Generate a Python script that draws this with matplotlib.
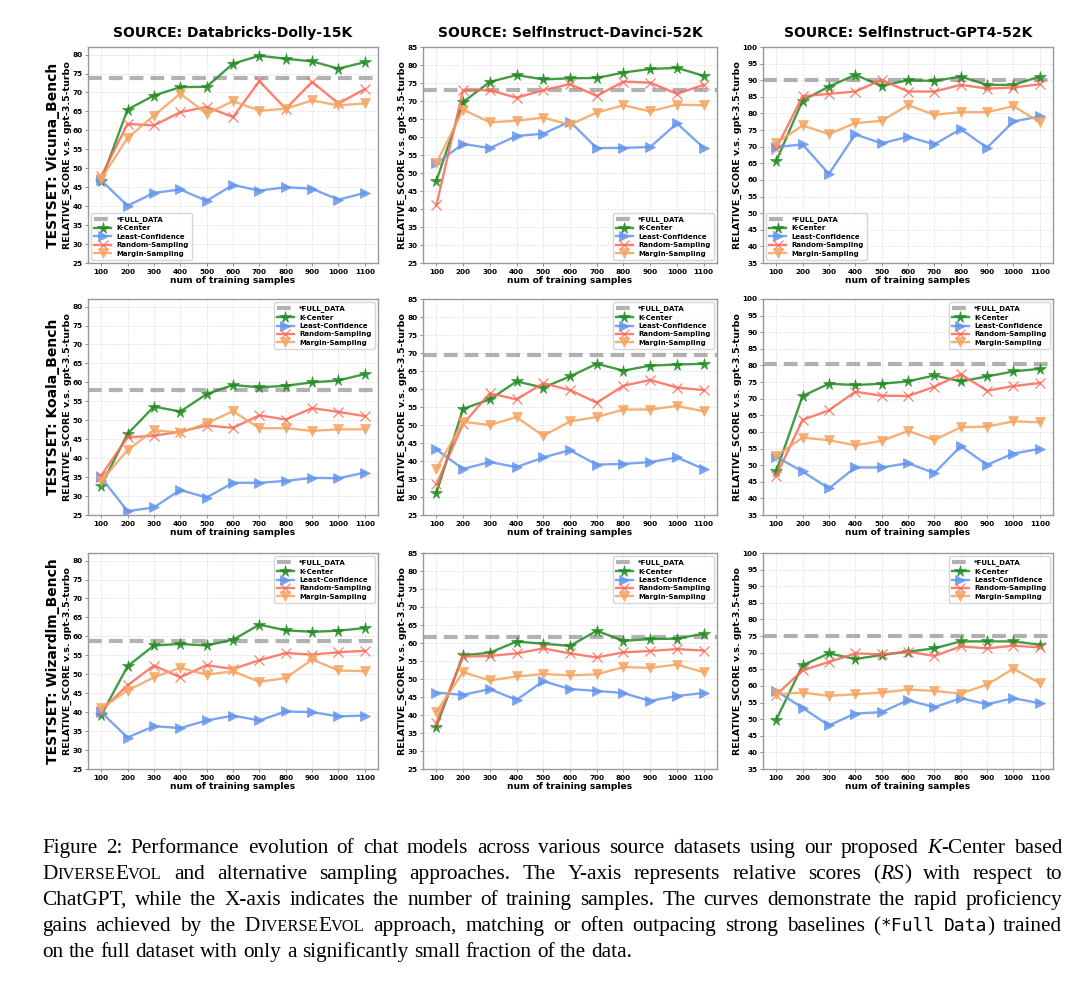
import matplotlib
matplotlib.use("Agg")
import matplotlib.pyplot as plt
from matplotlib.ticker import MultipleLocator

plt.rcParams['font.family'] = ['DejaVu Sans']
plt.rcParams['font.weight'] = 'bold'
plt.rcParams['axes.titleweight'] = 'bold'
plt.rcParams['axes.labelweight'] = 'bold'

samples = [100, 200, 300, 400, 500, 600, 700, 800, 900, 1000, 1100]
sources = ["Databricks-Dolly-15K", "SelfInstruct-Davinci-52K", "SelfInstruct-GPT4-52K"]
testsets = ["Vicuna_Bench", "Koala_Bench", "Wizardlm_Bench"]
series_names = ["K-Center", "Least-Confidence", "Random-Sampling", "Margin-Sampling"]

# TESTSET: Vicuna_Bench
vicuna_dolly_full = 73.8
vicuna_dolly_kcenter = [46.6, 65.5, 69.2, 71.4, 71.5, 77.6, 79.7, 78.9, 78.2, 76.3, 78.0]
vicuna_dolly_least = [46.8, 40.1, 43.5, 44.4, 41.4, 45.6, 44.1, 45.0, 44.6, 41.7, 43.5]
vicuna_dolly_random = [47.9, 61.7, 61.3, 64.8, 66.2, 63.5, 73.0, 65.7, 72.8, 67.1, 70.9]
vicuna_dolly_margin = [47.2, 58.0, 63.9, 69.7, 64.4, 67.7, 65.2, 65.7, 67.9, 66.6, 67.1]

vicuna_davinci_full = 73.1
vicuna_davinci_kcenter = [47.8, 69.7, 75.3, 77.2, 76.0, 76.3, 76.4, 77.9, 78.9, 79.2, 77.0]
vicuna_davinci_least = [52.7, 58.1, 56.9, 60.3, 60.9, 64.3, 56.9, 57.0, 57.2, 63.8, 57.0]
vicuna_davinci_random = [41.0, 73.0, 73.0, 70.9, 73.0, 74.7, 71.4, 75.4, 75.1, 72.0, 74.5]
vicuna_davinci_margin = [52.7, 67.6, 64.1, 64.5, 65.4, 63.4, 66.8, 68.8, 67.1, 69.0, 68.8]

vicuna_gpt4_full = 90.2
vicuna_gpt4_kcenter = [65.6, 83.9, 88.1, 91.6, 88.3, 90.0, 89.8, 91.1, 88.6, 88.6, 91.1]
vicuna_gpt4_least = [69.9, 70.7, 61.8, 73.7, 71.0, 73.0, 70.7, 75.3, 69.7, 77.6, 79.1]
vicuna_gpt4_random = [69.4, 85.2, 85.9, 86.6, 90.1, 86.6, 86.6, 88.6, 87.5, 87.8, 88.8]
vicuna_gpt4_margin = [71.0, 76.4, 73.8, 77.1, 77.8, 82.5, 79.6, 80.4, 80.4, 82.2, 77.4]

# TESTSET: Koala_Bench
koala_dolly_full = 58.0
koala_dolly_kcenter = [32.7, 46.4, 53.6, 52.3, 56.9, 59.3, 58.7, 59.1, 60.0, 60.5, 62.2]
koala_dolly_least = [34.9, 26.0, 27.0, 31.6, 29.6, 33.5, 33.5, 34.0, 34.8, 34.7, 36.2]
koala_dolly_random = [35.4, 45.5, 45.9, 47.0, 48.6, 48.0, 51.3, 50.2, 53.2, 52.2, 51.1]
koala_dolly_margin = [34.0, 42.1, 47.4, 46.7, 49.2, 52.4, 47.9, 47.9, 47.2, 47.6, 47.6]

koala_davinci_full = 69.4
koala_davinci_kcenter = [31.1, 54.5, 57.1, 62.1, 60.4, 63.5, 67.0, 65.1, 66.5, 66.8, 67.0]
koala_davinci_least = [43.2, 37.8, 39.7, 38.3, 41.0, 43.0, 39.0, 39.2, 39.7, 41.0, 37.8]
koala_davinci_random = [33.5, 50.3, 58.8, 57.1, 61.6, 59.7, 56.2, 60.9, 62.5, 60.4, 59.7]
koala_davinci_margin = [37.8, 50.9, 50.0, 52.2, 47.0, 51.0, 52.2, 54.3, 54.3, 55.3, 53.8]

koala_gpt4_full = 80.3
koala_gpt4_kcenter = [48.1, 70.8, 74.5, 74.1, 74.5, 75.2, 77.0, 75.2, 76.7, 78.2, 79.0]
koala_gpt4_least = [52.5, 48.1, 43.0, 49.3, 49.3, 50.6, 47.6, 55.7, 50.1, 53.5, 54.9]
koala_gpt4_random = [46.8, 63.6, 66.5, 72.1, 70.9, 70.8, 73.6, 77.4, 72.4, 73.8, 74.7]
koala_gpt4_margin = [52.7, 58.3, 57.5, 56.0, 57.3, 60.3, 57.6, 61.4, 61.6, 63.2, 62.9]

# TESTSET: Wizardlm_Bench
wizard_dolly_full = 58.9
wizard_dolly_kcenter = [39.2, 52.1, 57.6, 58.0, 57.6, 59.1, 63.1, 61.6, 61.2, 61.5, 62.2]
wizard_dolly_least = [40.0, 33.3, 36.3, 35.8, 37.8, 39.1, 37.8, 40.2, 40.0, 38.9, 39.1]
wizard_dolly_random = [40.4, 47.1, 52.3, 49.2, 52.4, 51.4, 53.7, 55.6, 55.2, 55.8, 56.2]
wizard_dolly_margin = [41.1, 45.7, 49.2, 51.7, 49.9, 50.8, 48.0, 49.0, 53.9, 51.0, 50.8]

wizard_davinci_full = 61.7
wizard_davinci_kcenter = [36.8, 56.6, 57.3, 60.4, 59.8, 59.2, 63.4, 60.6, 61.1, 61.2, 62.6]
wizard_davinci_least = [46.2, 45.6, 47.2, 44.2, 49.4, 47.2, 46.7, 46.1, 43.9, 45.3, 46.1]
wizard_davinci_random = [37.9, 56.2, 56.4, 57.1, 58.5, 57.1, 56.0, 57.4, 57.8, 58.3, 57.9]
wizard_davinci_margin = [40.9, 51.9, 49.6, 50.7, 51.4, 51.0, 51.3, 53.3, 53.1, 54.0, 51.9]

wizard_gpt4_full = 75.1
wizard_gpt4_kcenter = [49.8, 66.2, 69.8, 68.1, 69.3, 70.3, 71.3, 73.4, 73.4, 73.4, 72.4]
wizard_gpt4_least = [58.5, 53.4, 48.1, 51.7, 52.1, 55.7, 53.6, 56.3, 54.5, 56.3, 54.8]
wizard_gpt4_random = [57.3, 64.7, 67.2, 69.8, 69.5, 70.3, 69.0, 71.9, 71.3, 72.1, 71.6]
wizard_gpt4_margin = [57.5, 58.0, 57.0, 57.5, 58.0, 58.9, 58.5, 57.7, 60.4, 65.2, 60.8]

panels = [
    [(vicuna_dolly_full, [vicuna_dolly_kcenter, vicuna_dolly_least, vicuna_dolly_random, vicuna_dolly_margin]),
     (vicuna_davinci_full, [vicuna_davinci_kcenter, vicuna_davinci_least, vicuna_davinci_random, vicuna_davinci_margin]),
     (vicuna_gpt4_full, [vicuna_gpt4_kcenter, vicuna_gpt4_least, vicuna_gpt4_random, vicuna_gpt4_margin])],
    [(koala_dolly_full, [koala_dolly_kcenter, koala_dolly_least, koala_dolly_random, koala_dolly_margin]),
     (koala_davinci_full, [koala_davinci_kcenter, koala_davinci_least, koala_davinci_random, koala_davinci_margin]),
     (koala_gpt4_full, [koala_gpt4_kcenter, koala_gpt4_least, koala_gpt4_random, koala_gpt4_margin])],
    [(wizard_dolly_full, [wizard_dolly_kcenter, wizard_dolly_least, wizard_dolly_random, wizard_dolly_margin]),
     (wizard_davinci_full, [wizard_davinci_kcenter, wizard_davinci_least, wizard_davinci_random, wizard_davinci_margin]),
     (wizard_gpt4_full, [wizard_gpt4_kcenter, wizard_gpt4_least, wizard_gpt4_random, wizard_gpt4_margin])],
]

ylims = [(25, 82), (25, 85), (35, 100)]
legend_locs = [["lower left", "lower right", "lower left"],
               ["upper right", "upper right", "upper right"],
               ["upper right", "upper right", "upper right"]]

colors = ['forestgreen', 'cornflowerblue', '#fa6a58', 'sandybrown']
markers = ['*', '>', 'x', 'v']
msizes = [8.5, 6.5, 7.5, 6.5]

W, H = 1080, 981
fig = plt.figure(figsize=(W / 100, H / 100), dpi=100)

col_left = [88, 423, 763]
col_width = [290, 294, 290]
row_top = [47, 299, 553]
ax_h = 216
ylab_off = [21, 21, 26]

for i in range(3):
    for j in range(3):
        ax = fig.add_axes([col_left[j] / W, 1 - (row_top[i] + ax_h) / H, col_width[j] / W, ax_h / H])
        full, series = panels[i][j]
        ax.axhline(full, color='gray', alpha=0.6, lw=3, linestyle=(0, (3.3, 1.7)), label='*FULL_DATA')
        for k in range(4):
            ax.plot(samples, series[k], color=colors[k], marker=markers[k], ms=msizes[k],
                    lw=1.7, alpha=0.85, mew=0.9 if markers[k] == 'x' else 0.5,
                    label=series_names[k])
        ax.set_xlim(50, 1150)
        ax.set_ylim(*ylims[j])
        ax.set_xticks(samples)
        ax.yaxis.set_major_locator(MultipleLocator(5))
        ax.tick_params(labelsize=5.2, length=2, width=0.6, color='gray', pad=2)
        plt.setp(ax.get_xticklabels() + ax.get_yticklabels(), fontweight='bold')
        ax.grid(True, color='#cccccc', lw=0.5, alpha=0.6, linestyle='--')
        for s in ax.spines.values():
            s.set_color('#999999')
            s.set_linewidth(1)
        ax.set_xlabel('num of training samples', fontsize=6.6, fontweight='bold', labelpad=1)
        ax.set_ylabel('RELATIVE_SCORE v.s. gpt-3.5-turbo', fontsize=6.8, fontweight='bold',
                      ha='center', va='center')
        ax.yaxis.set_label_coords(-ylab_off[j] / col_width[j], 0.5)
        ax.legend(loc=legend_locs[i][j], prop={'size': 5, 'weight': 'bold'}, handlelength=2.4,
                  labelspacing=0.35, borderpad=0.4, framealpha=0.8, edgecolor='#cccccc')
        if i == 0:
            ax.set_title('SOURCE: ' + sources[j], fontsize=10, fontweight='bold', pad=7)
        if j == 0:
            fig.text(53 / W, 1 - (row_top[i] + ax_h / 2) / H, 'TESTSET: ' + testsets[i],
                     rotation=90, fontsize=10, fontweight='bold', ha='center', va='center')

# caption, laid out word by word and justified
cap_size = 15.3
normal = dict(family='Liberation Serif', fontsize=cap_size, weight='normal')
italic = dict(normal, style='italic')
small = dict(normal, fontsize=cap_size * 0.78)
mono = dict(family='DejaVu Sans Mono', fontsize=13, weight='normal')
special = {
    "K-Center": [("K", italic), ("-Center", normal)],
    "DiverseEvol": [("D", normal), ("IVERSE", small), ("E", normal), ("VOL", small)],
    "(RS)": [("(", normal), ("RS", italic), (")", normal)],
    "(*Full": [("(", normal), ("*Full", mono)],
    "Data)": [("Data", mono), (")", normal)],
}
caption = [
    "Figure 2: Performance evolution of chat models across various source datasets using our proposed K-Center based",
    "DiverseEvol and alternative sampling approaches. The Y-axis represents relative scores (RS) with respect to",
    "ChatGPT, while the X-axis indicates the number of training samples. The curves demonstrate the rapid proficiency",
    "gains achieved by the DiverseEvol approach, matching or often outpacing strong baselines (*Full Data) trained",
    "on the full dataset with only a significantly small fraction of the data.",
]
x0, x1 = 42, 1062
base0, dy = 853, 26
r = fig.canvas.get_renderer()
for n, line in enumerate(caption):
    y = 1 - (base0 + n * dy) / H
    words = []
    for w in line.split(' '):
        pieces = special.get(w, [(w, normal)])
        texts = []
        width = 0
        for txt, kw in pieces:
            t = fig.text(0, y, txt, va='baseline', ha='left', **kw)
            pw = t.get_window_extent(r).width
            texts.append((t, pw))
            width += pw
        words.append((texts, width))
    total = sum(wd for _, wd in words)
    if n < len(caption) - 1:
        gap = (x1 - x0 - total) / (len(words) - 1)
    else:
        gap = 5.5
    x = x0
    for texts, wd in words:
        for t, pw in texts:
            t.set_x(x / W)
            x += pw
        x += gap

fig.savefig('out.png', dpi=100)
